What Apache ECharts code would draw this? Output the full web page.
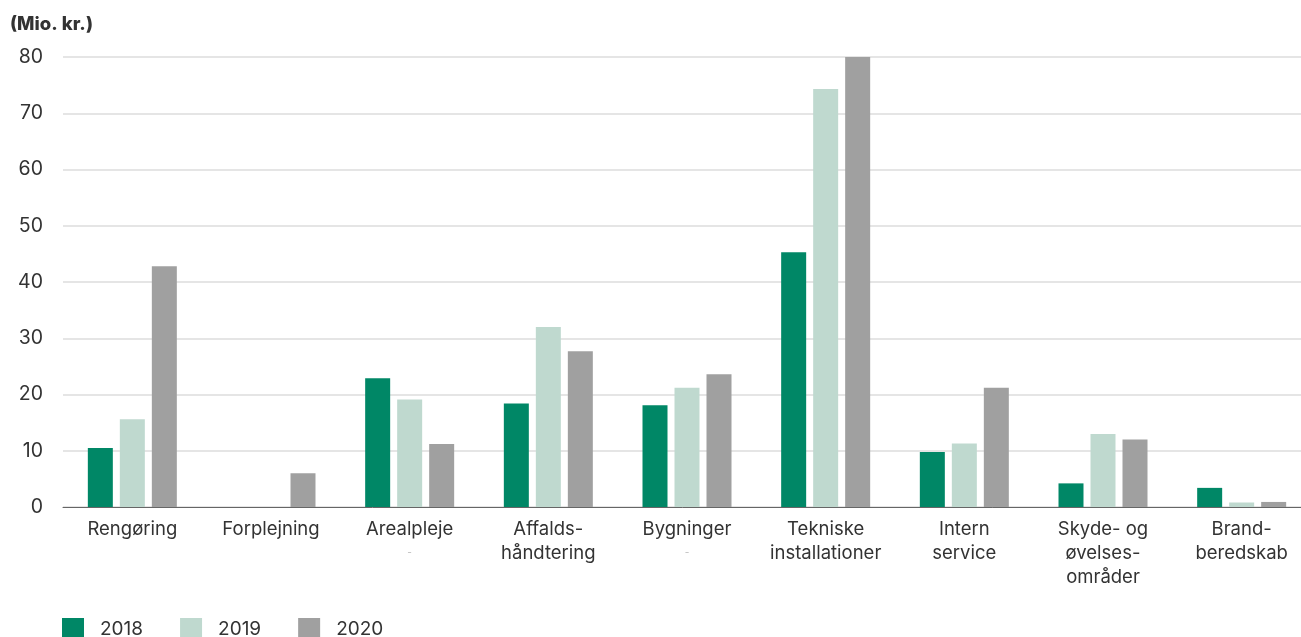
<!DOCTYPE html>
<html><head><meta charset="utf-8">
<script src="https://cdn.jsdelivr.net/npm/echarts@6/dist/echarts.min.js"></script>
<style>html,body{margin:0;padding:0;background:#fff}#c{width:1301px;height:637px}</style>
</head><body><div id="c"></div>
<script>
const categories = ['Rengøring','Forplejning','Arealpleje\n{d|-}','Affalds-\nhåndtering','Bygninger\n{d|-}','Tekniske\ninstallationer','Intern\nservice','Skyde- og\nøvelses-\nområder','Brand-\nberedskab'];
const years = ['2018','2019','2020'];
const v2018 = [10.5, null, 22.9, 18.4, 18.1, 45.3, 9.8, 4.2, 3.4];
const v2019 = [15.6, null, 19.1, 32.0, 21.2, 74.3, 11.3, 13.0, 0.8];
const v2020 = [42.8, 6.0, 11.2, 27.7, 23.6, 80.0, 21.2, 12.0, 0.9];
const yTicks = [0, 10, 20, 30, 40, 50, 60, 70, 80];
const colors = ['#008766', '#bfd9cf', '#a0a0a0'];
const font = 'Inter';
const chart = echarts.init(document.getElementById('c'));
const mk = (name, data, i) => ({
  name, type: 'bar', data, barWidth: 25, barGap: '28%',
  itemStyle: { color: colors[i] }
});
chart.setOption({
  animation: false,
  textStyle: { fontFamily: font },
  title: { text: '(Mio. kr.)', left: 5, top: 10, textStyle: { fontSize: 18.5, fontWeight: 800, color: '#333', fontFamily: font } },
  grid: { left: 63, width: 1248, top: 57, height: 450, containLabel: false, outerBoundsMode: 'none' },
  legend: {
    left: 57, top: 613, itemWidth: 22, itemHeight: 22, itemGap: 37, icon: 'rect',
    data: years,
    textStyle: { fontSize: 19, color: '#333', padding: [0, 0, 0, 11], fontFamily: font }
  },
  xAxis: {
    type: 'category', data: categories,
    axisLine: { lineStyle: { color: '#666', width: 1 } },
    axisTick: { show: false },
    axisLabel: {
      interval: 0, fontSize: 18.5, color: '#333', lineHeight: 24, margin: 10, fontFamily: font,
      rich: { d: { fontSize: 10, color: '#bbb', lineHeight: 24 } }
    }
  },
  yAxis: {
    type: 'value', min: 0, max: 80, interval: 10,
    axisLine: { show: false }, axisTick: { show: false },
    splitLine: { lineStyle: { color: '#dcdcdc', width: 1.5 } },
    axisLabel: { fontSize: 19.5, color: '#333', margin: 20, fontFamily: font,
      formatter: v => yTicks.includes(v) ? String(v) : '' }
  },
  series: [mk(years[0], v2018, 0), mk(years[1], v2019, 1), mk(years[2], v2020, 2)]
});
</script></body></html>
